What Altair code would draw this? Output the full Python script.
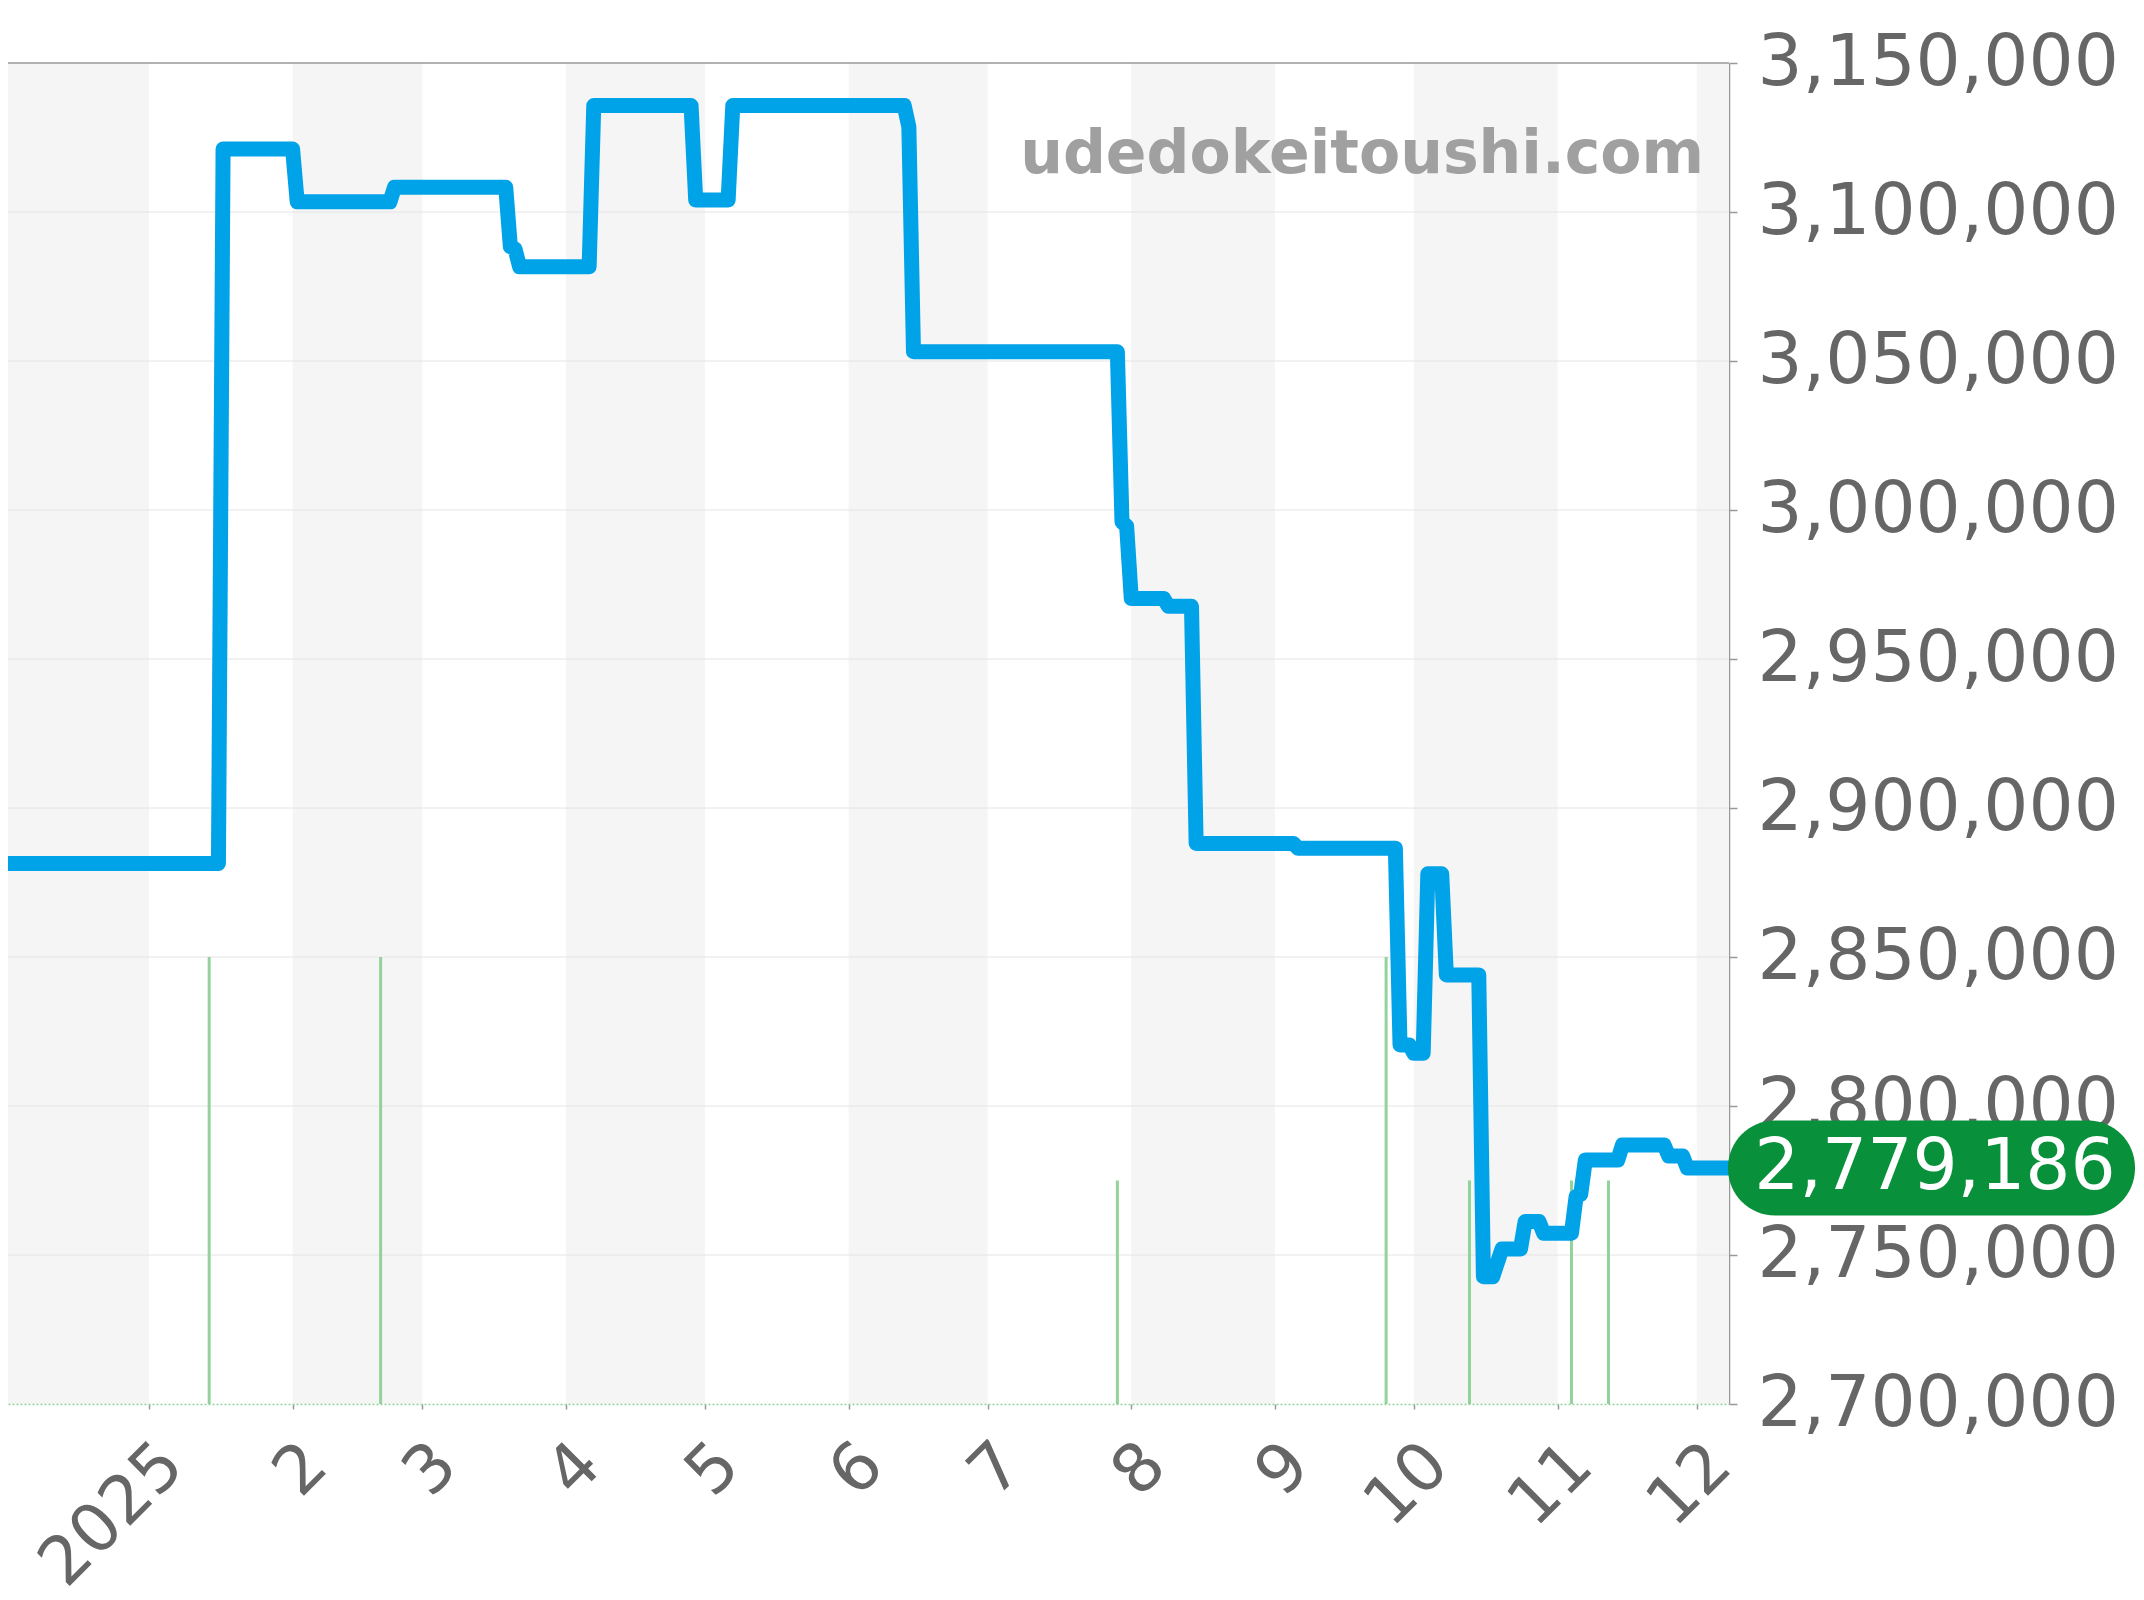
import altair as alt
import pandas as pd

# ---- data ----
price_dates = [
    "2024-12-01", "2025-01-16", "2025-01-17", "2025-02-01", "2025-02-02",
    "2025-02-22", "2025-02-23", "2025-03-19", "2025-03-20", "2025-03-21",
    "2025-03-22", "2025-04-06", "2025-04-07", "2025-04-28", "2025-04-29",
    "2025-05-06", "2025-05-07", "2025-06-13", "2025-06-14", "2025-06-15",
    "2025-07-29", "2025-07-30", "2025-07-31", "2025-08-01", "2025-08-08",
    "2025-08-09", "2025-08-14", "2025-08-15", "2025-09-05", "2025-09-06",
    "2025-09-27", "2025-09-28", "2025-09-30", "2025-10-01", "2025-10-03",
    "2025-10-04", "2025-10-07", "2025-10-08", "2025-10-15", "2025-10-16",
    "2025-10-18", "2025-10-20", "2025-10-24", "2025-10-25", "2025-10-28",
    "2025-10-29", "2025-11-04", "2025-11-05", "2025-11-06", "2025-11-07",
    "2025-11-14", "2025-11-15", "2025-11-24", "2025-11-25", "2025-11-28",
    "2025-11-29", "2025-12-08",
]
price_values = [
    2881400, 2881400, 3121100, 3121100, 3103400,
    3103400, 3108300, 3108300, 3088400, 3087600,
    3081600, 3081600, 3135700, 3135700, 3104000,
    3104000, 3135700, 3135700, 3128600, 3053100,
    3053100, 2996000, 2994600, 2970300, 2970300,
    2967700, 2967700, 2888100, 2888100, 2886500,
    2886500, 2820500, 2820500, 2817700, 2817700,
    2877900, 2877900, 2844000, 2844000, 2742700,
    2742700, 2752000, 2752000, 2761200, 2761200,
    2757300, 2757300, 2769600, 2770400, 2781900,
    2781900, 2786900, 2786900, 2783200, 2783200,
    2779186, 2779186,
]

volume_dates = ["2025-01-14", "2025-02-20", "2025-07-29", "2025-09-25",
                "2025-10-13", "2025-11-04", "2025-11-12"]
volume_counts = [2, 2, 1, 2, 1, 1, 1]

band_starts = ["2024-12-01", "2025-02-01", "2025-04-01", "2025-06-01",
               "2025-08-01", "2025-10-01", "2025-12-01"]
band_ends = ["2025-01-01", "2025-03-01", "2025-05-01", "2025-07-01",
             "2025-09-01", "2025-11-01", "2026-01-01"]

y_ticks = [2700000, 2750000, 2800000, 2850000, 2900000,
           2950000, 3000000, 3050000, 3100000, 3150000]
tick_months = [1, 2, 3, 4, 5, 6, 7, 8, 9, 10, 11, 12]

latest_price = [2779186]
watermark = ["udedokeitoushi.com"]

# ---- tables ----
price_df = pd.DataFrame({"date": pd.to_datetime(price_dates), "price": price_values})
vol_df = pd.DataFrame({"date": pd.to_datetime(volume_dates), "count": volume_counts})
band_df = pd.DataFrame({"start": pd.to_datetime(band_starts), "end": pd.to_datetime(band_ends)})
grid_df = pd.DataFrame({"tick": y_ticks[1:-1]})
last_df = pd.DataFrame({"price": latest_price})
wm_df = pd.DataFrame({"label": watermark})

FONT = "DejaVu Sans"
W, H = 1721, 1341

xs = alt.Scale(domain=[alt.DateTime(year=2024, month=12, date=1, hours=14),
                       alt.DateTime(year=2025, month=12, date=8)])
ys = alt.Scale(domain=[2700000, 3150000], zero=False, nice=False)

x_axis = alt.Axis(
    values=[alt.DateTime(year=2025, month=m, date=1) for m in tick_months],
    labelExpr="month(datum.value) == 0 ? timeFormat(datum.value, '%Y') : '' + (month(datum.value) + 1)",
    labelAngle=-45, labelAlign="right", labelBaseline="top",
    labelFont=FONT, labelFontSize=67, labelColor="#666666",
    labelPadding=22, labelOverlap=False, labelFlush=False, labelLimit=0,
    tickColor="#999999", tickSize=5, tickWidth=1.5,
    domainColor="#92d39b", domainDash=[2, 2], domainWidth=1.5,
    grid=False, title=None, zindex=1,
)
y_axis = alt.Axis(
    orient="right", values=y_ticks, format=",d",
    labelFont=FONT, labelFontSize=71, labelColor="#666666",
    labelPadding=20, labelOverlap=False, labelFlush=False, labelLimit=0,
    tickColor="#999999", tickSize=8, tickWidth=1.5,
    domainColor="#999999", domainWidth=1.5,
    grid=False, title=None, zindex=0,
)

bands = alt.Chart(band_df).mark_rect(color="#f5f5f5", clip=True).encode(
    x=alt.X("start:T", scale=xs, axis=x_axis),
    x2="end:T",
)

grid = alt.Chart(grid_df).mark_rule(color="#e4e4e4", strokeWidth=1).encode(
    y=alt.Y("tick:Q", scale=ys, axis=None)
)

top_border = alt.Chart(wm_df).mark_rule(color="#999999", strokeWidth=1.5).encode(
    y=alt.Y(datum=y_ticks[-1], type="quantitative", scale=ys, axis=None)
)

wm = alt.Chart(wm_df).mark_text(
    align="right", baseline="alphabetic", font=FONT, fontSize=60,
    fontWeight="bold", color="#a0a0a0",
).encode(x=alt.value(1696), y=alt.value(110), text="label:N")

bars = alt.Chart(vol_df).mark_rule(color="#92d39b", strokeWidth=3).encode(
    x=alt.X("date:T", scale=xs, axis=x_axis),
    y=alt.Y("count:Q", scale=alt.Scale(domain=[0, 6]), axis=None),
    y2=alt.datum(0),
)

line = alt.Chart(price_df).mark_line(
    color="#00a2e8", strokeWidth=15, strokeJoin="round", strokeCap="round", clip=True
).encode(
    x=alt.X("date:T", scale=xs, axis=x_axis),
    y=alt.Y("price:Q", scale=ys, axis=y_axis),
)

pill = alt.Chart(last_df).mark_rect(
    color="#09903b", cornerRadius=47, yOffset=-47.5, y2Offset=47.5
).encode(
    x=alt.value(1720), x2=alt.value(2127),
    y=alt.Y("price:Q", scale=ys, axis=None),
    y2="price:Q",
)

pill_text = alt.Chart(last_df).mark_text(
    color="white", font=FONT, fontSize=71, align="center", baseline="middle"
).encode(
    x=alt.value(1927),
    y=alt.Y("price:Q", scale=ys, axis=None),
    text=alt.Text("price:Q", format=","),
)

chart = alt.layer(
    bands, grid, top_border, wm, bars, line, pill, pill_text
).resolve_scale(y="independent").properties(
    width=W, height=H,
    autosize=alt.AutoSizeParams(type="none"),
    padding={"left": 0, "top": 55, "right": 406, "bottom": 186},
    background="white",
).configure_view(stroke=None)

chart.save("out.html", embed_options={"renderer": "svg", "actions": False})
